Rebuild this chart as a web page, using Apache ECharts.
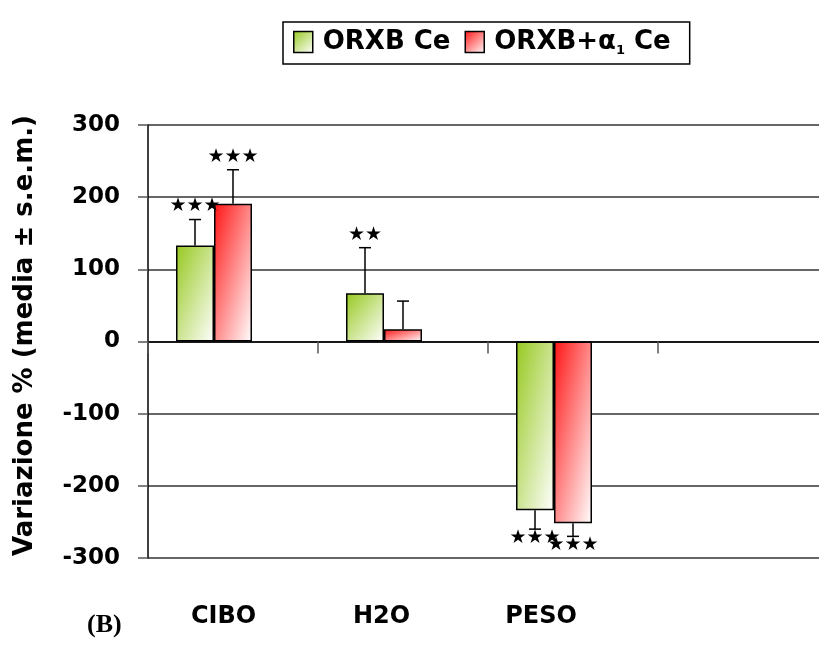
<!DOCTYPE html>
<html>
<head>
<meta charset="utf-8">
<script src="https://cdn.jsdelivr.net/npm/echarts@6/dist/echarts.min.js"></script>
<style>
  html, body { margin: 0; padding: 0; background: #fff; }
  #chart { width: 819px; height: 646px; }
</style>
</head>
<body>
<div id="chart"></div>
<script>
// Categories on the x axis (the last slot is left empty)
const categories = ['CIBO', 'H2O', 'PESO', ''];
const seriesNames = ['ORXB Ce', 'ORXB+α1 Ce'];

// Percent change, mean and s.e.m.
const orxbMean = [133, 67, -234];
const orxbSem = [36, 63, 26];
const orxbSig = ['★★★', '★★', '★★★'];

const alphaMean = [191, 17, -252];
const alphaSem = [47, 39, 18];
const alphaSig = ['★★★', '', '★★★'];

// Value axis range and step
const yMin = -300;
const yMax = 300;
const yStep = 100;

const BAR_W = 38;
const GREEN = '#96c81e';
const RED = '#ff1414';
const FONT = 'DejaVu Sans';

const chart = echarts.init(document.getElementById('chart'), null, { renderer: 'canvas' });

function stops(color) {
  return [{ offset: 0, color: color }, { offset: 1, color: '#ffffff' }];
}

// One-sided error bar (away from zero) with significance stars
function errorRenderer(slot, means, sems, sigs) {
  return function (params, api) {
    const i = params.dataIndex;
    const m = means[i], e = sems[i];
    const base = api.coord([i, m]);
    const tip = api.coord([i, m + (m >= 0 ? e : -e)]);
    const x = base[0] + slot * BAR_W;
    const children = [
      { type: 'line', shape: { x1: x, y1: base[1], x2: x, y2: tip[1] },
        style: { stroke: '#000', lineWidth: 1.5 } },
      { type: 'line', shape: { x1: x - 6, y1: tip[1], x2: x + 6, y2: tip[1] },
        style: { stroke: '#000', lineWidth: 1.5 } }
    ];
    if (sigs[i]) {
      children.push({
        type: 'text',
        style: {
          x: x, y: tip[1] + (m >= 0 ? -13 : 9),
          text: sigs[i], fill: '#000',
          font: 'bold 19px "' + FONT + '"',
          align: 'center', verticalAlign: 'middle'
        }
      });
    }
    return { type: 'group', children: children };
  };
}

// Diagonal fill from the top-left corner to the bottom-right corner of each bar,
// placed in canvas pixels from the axis positions
function barData(means, color, slot) {
  return means.map(function (v, i) {
    const p0 = chart.convertToPixel({ seriesIndex: 0 }, [i, 0]);
    const p1 = chart.convertToPixel({ seriesIndex: 0 }, [i, v]);
    if (!p0 || !p1) return v;
    const w = BAR_W;
    const h = Math.max(Math.abs(p1[1] - p0[1]), 1);
    const left = p0[0] + slot * w - w / 2;
    const top = Math.min(p0[1], p1[1]);
    const k = 2 * w * h / (h * h + w * w);
    return {
      value: v,
      itemStyle: {
        color: {
          type: 'linear', global: true,
          x: left, y: top, x2: left + k * h, y2: top + k * w,
          colorStops: stops(color)
        }
      }
    };
  });
}

function buildOption(ready) {
  return {
    animation: false,
    backgroundColor: '#fff',
    grid: { left: 148, top: 125, width: 680, bottom: 88, outerBoundsMode: 'none' },
    legend: {
      data: seriesNames,
      left: 283, top: 22,
      orient: 'horizontal',
      padding: [7, 19, 7, 10],
      borderColor: '#000', borderWidth: 1.5,
      itemWidth: 19, itemHeight: 21, itemGap: 14,
      icon: 'rect',
      itemStyle: { borderColor: '#000', borderWidth: 1.5 },
      formatter: function (name) {
        if (name === seriesNames[1]) return '{f|ORXB+}{a|α}{s|1}{t| Ce}';
        return '{f|' + name + '}';
      },
      textStyle: {
        rich: {
          f: { fontFamily: FONT, fontWeight: 'bold', fontSize: 26, color: '#000', lineHeight: 30, padding: [0, 0, 0, 5] },
          t: { fontFamily: FONT, fontWeight: 'bold', fontSize: 26, color: '#000', lineHeight: 30 },
          a: { fontFamily: FONT, fontWeight: 'bold', fontSize: 26, color: '#000', lineHeight: 30 },
          s: { fontFamily: FONT, fontWeight: 'bold', fontSize: 13, color: '#000', lineHeight: 30, verticalAlign: 'bottom' }
        }
      }
    },
    xAxis: [
      {
        type: 'category', data: categories, position: 'bottom', boundaryGap: true,
        axisLine: { onZero: true, lineStyle: { color: '#000', width: 1.5 } },
        axisTick: { show: true, length: 12, lineStyle: { color: '#555', width: 1.5 } },
        axisLabel: { show: false },
        splitLine: { show: false }
      },
      {
        type: 'category', data: categories, position: 'bottom', boundaryGap: true,
        axisLine: { show: false, onZero: false },
        axisTick: { show: false },
        axisLabel: {
          show: true, margin: 47, color: '#000',
          formatter: function (v, idx) { return v ? '{c' + idx + '|' + v + '}' : ''; },
          rich: {
            c0: { fontFamily: FONT, fontWeight: 'bold', fontSize: 24, color: '#000', padding: [0, 19, 0, 0] },
            c1: { fontFamily: FONT, fontWeight: 'bold', fontSize: 24, color: '#000', padding: [0, 43, 0, 0] },
            c2: { fontFamily: FONT, fontWeight: 'bold', fontSize: 24, color: '#000', padding: [0, 64, 0, 0] }
          }
        },
        splitLine: { show: false }
      }
    ],
    yAxis: {
      type: 'value', min: yMin, max: yMax, interval: yStep,
      name: 'Variazione % (media ± s.e.m.)',
      nameLocation: 'middle', nameRotate: 90, nameGap: 110,
      nameTextStyle: { fontFamily: FONT, fontWeight: 'bold', fontSize: 26, color: '#000', padding: [0, 0, 0, 12] },
      axisLine: { show: true, lineStyle: { color: '#000', width: 1.5 } },
      axisTick: { show: true, length: 10, lineStyle: { color: '#555', width: 1.5 } },
      axisLabel: { margin: 28, fontFamily: FONT, fontWeight: 'bold', fontSize: 23, color: '#000' },
      splitLine: { show: true, lineStyle: { color: '#333', width: 1.5 } }
    },
    graphic: [
      {
        type: 'text', left: 87, top: 612,
        style: { text: '(B)', font: 'bold 26px "Liberation Serif"', fill: '#000' }
      }
    ],
    series: [
      {
        name: seriesNames[0], type: 'bar', xAxisIndex: 0, yAxisIndex: 0,
        barWidth: BAR_W, barGap: '0%',
        itemStyle: {
          color: new echarts.graphic.LinearGradient(0, 0, 1, 1, stops(GREEN)),
          borderColor: '#000', borderWidth: 1.5
        },
        data: ready ? barData(orxbMean, GREEN, -1) : orxbMean
      },
      {
        name: seriesNames[1], type: 'bar', xAxisIndex: 0, yAxisIndex: 0,
        barWidth: BAR_W, barGap: '0%',
        itemStyle: {
          color: new echarts.graphic.LinearGradient(0, 0, 1, 1, stops(RED)),
          borderColor: '#000', borderWidth: 1.5
        },
        data: ready ? barData(alphaMean, RED, 0) : alphaMean
      },
      {
        // empty third slot in each group
        name: 'riserva', type: 'bar', xAxisIndex: 0, yAxisIndex: 0,
        barWidth: BAR_W, barGap: '0%', data: []
      },
      {
        type: 'custom', xAxisIndex: 0, yAxisIndex: 0, z: 5,
        renderItem: errorRenderer(-1, orxbMean, orxbSem, orxbSig),
        data: orxbMean.map(function (v, i) { return [i, v]; })
      },
      {
        type: 'custom', xAxisIndex: 0, yAxisIndex: 0, z: 5,
        renderItem: errorRenderer(0, alphaMean, alphaSem, alphaSig),
        data: alphaMean.map(function (v, i) { return [i, v]; })
      }
    ]
  };
}

chart.setOption(buildOption(false));
chart.setOption(buildOption(true), true);
</script>
</body>
</html>
